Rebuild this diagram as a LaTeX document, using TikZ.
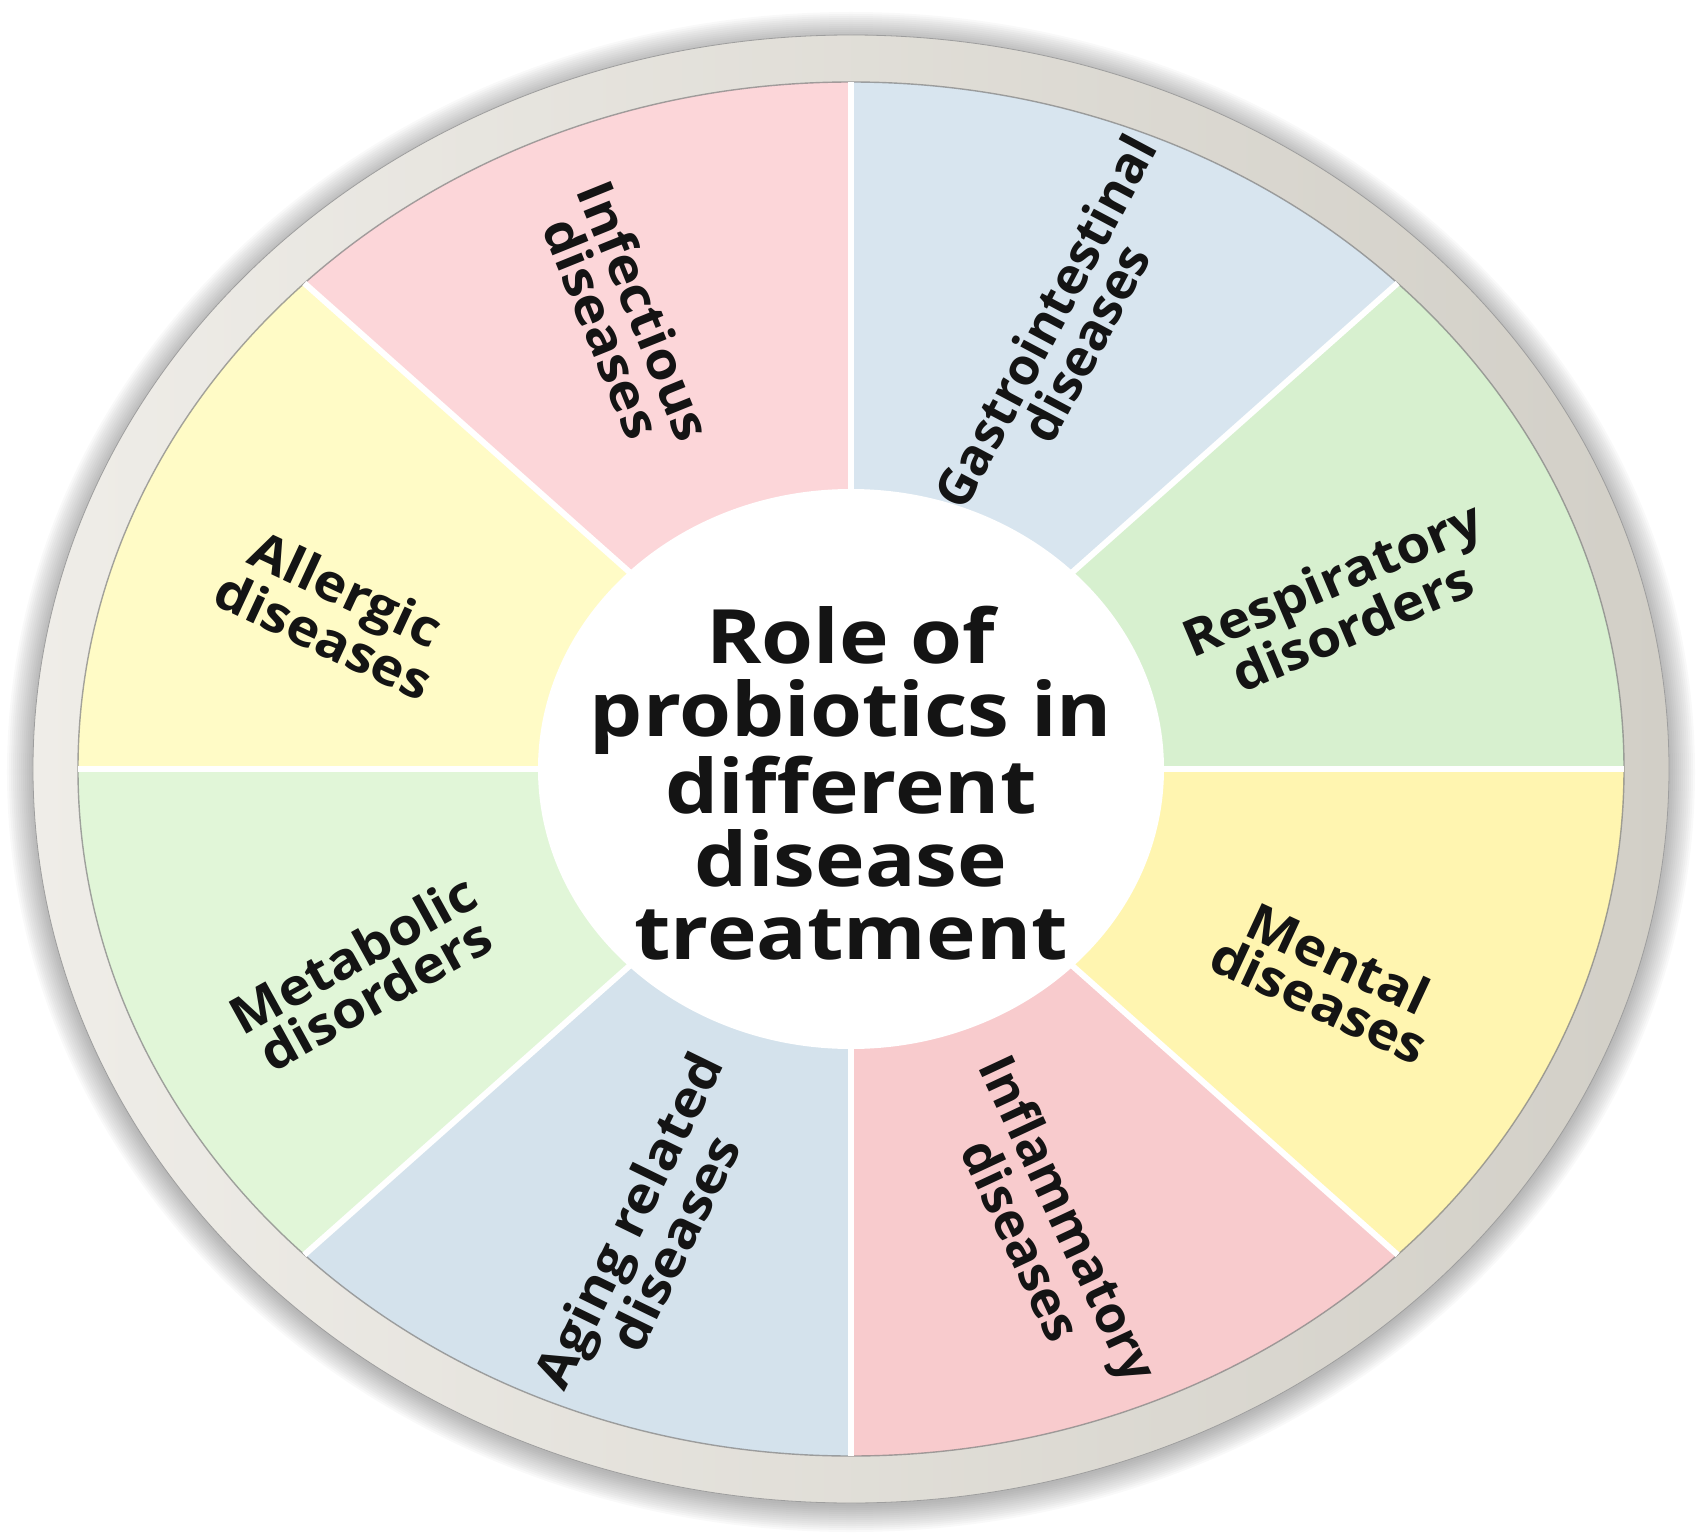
\documentclass[tikz,border=0pt]{standalone}
\usepackage{fontspec}
\setmainfont{Open Sans}
\newfontfamily\titlefont{Open Sans}[FakeStretch=1.12]
\newfontfamily\lblfont{Open Sans}[FakeStretch=1.08]
\newfontfamily\lblnarrow{Open Sans}
\usetikzlibrary{shapes.geometric}
\definecolor{ink}{HTML}{141414}
\definecolor{ringL}{HTML}{EFEDE8}
\definecolor{ringR}{HTML}{D2CFC7}
\definecolor{cInfec}{HTML}{FCD6D9}
\definecolor{cGastro}{HTML}{D8E5EF}
\definecolor{cResp}{HTML}{D7F0CF}
\definecolor{cMent}{HTML}{FFF5B0}
\definecolor{cInfl}{HTML}{F8CBCD}
\definecolor{cAging}{HTML}{D4E2EC}
\definecolor{cMeta}{HTML}{E1F6D8}
\definecolor{cAller}{HTML}{FFFBC6}
\begin{document}
\begin{tikzpicture}[x=1pt,y=1pt,
  lbl/.style={font=\lblfont\fontsize{51}{46}\selectfont\bfseries, align=center, text=ink, inner sep=0pt},
  lblnar/.style={lbl, font=\lblnarrow\fontsize{51}{46}\selectfont\bfseries},
  sepline/.style={white, line width=6pt},
  title/.style={font=\titlefont\fontsize{75}{73}\selectfont\bfseries, align=center, text=ink}]
\useasboundingbox (-851pt,-763pt) rectangle (851pt,769pt);
% soft drop shadow
\foreach \i in {1,...,14}
  \fill[black, opacity=0.022] (0pt,-3pt) ellipse [x radius={(846-2*\i)*1pt}, y radius={(762-2*\i)*1pt}];
% outer ring
\shade[left color=ringL, right color=ringR, draw=black!38, line width=0.8pt]
  (0,0) ellipse [x radius=818pt, y radius=734pt];
% sectors
\foreach \a/\c in {45/cGastro,0/cResp,-45/cMent,-90/cInfl,-135/cAging,180/cMeta,135/cAller,90/cInfec}
  \fill[\c] (0,0) -- (\a:773pt and 687pt)
    arc[start angle=\a, delta angle=45, x radius=773pt, y radius=687pt] -- cycle;
% inner edge of ring
\draw[black!50, line width=1.4pt, opacity=0.7] (0,0) ellipse [x radius=773pt, y radius=687pt];
% separators
\foreach \a in {0,45,...,315}
  \draw[sepline] (0,0) -- (\a:773pt and 687pt);
% hub
\node[ellipse, fill=white, minimum width=626pt, minimum height=560pt, inner sep=0pt] (hub) at (0,0) {};
\node[title] (htitle) at (0,-14pt)
  {Role of\\probiotics in\\different\\disease\\treatment};
% labels
\node[lbl, rotate=-68] (infec) at (-227pt,450pt) {Infectious\\diseases};
\node[lblnar, rotate=62] (gastro) at (214pt,437pt) {Gastrointestinal\\diseases};
\node[lbl, rotate=23] (resp) at (491pt,167pt) {Respiratory\\disorders};
\node[lbl, rotate=-25] (ment) at (478pt,-210pt) {Mental\\diseases};
\node[lblnar, rotate=-65] (infl) at (195pt,-460pt) {Inflammatory\\diseases};
\node[lbl, rotate=64] (aging) at (-200pt,-462pt) {Aging related\\diseases};
\node[lbl, rotate=29] (meta) at (-487pt,-205pt) {Metabolic\\disorders};
\node[lbl, rotate=-25] (aller) at (-516pt,157pt) {Allergic\\diseases};
\end{tikzpicture}
\end{document}
